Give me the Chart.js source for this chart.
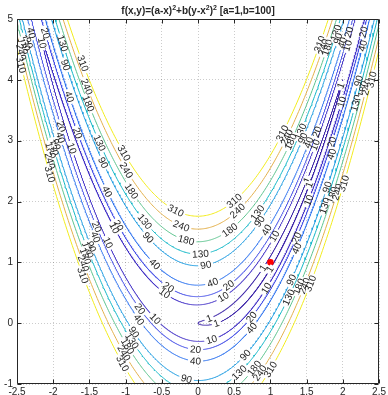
<!DOCTYPE html>
<html><head><meta charset="utf-8">
<script src="https://cdn.jsdelivr.net/npm/chart.js@4/dist/chart.umd.min.js"></script>
<style>html,body{margin:0;padding:0;background:#fff;}#wrap{width:388px;height:395px;}</style>
</head><body><div id="wrap"><canvas id="c" width="388" height="395"></canvas></div>
<script>
// ---- data ----
const paramA = 1, paramB = 100;                       // f(x,y)=(a-x)^2+b(y-x^2)^2
const levels = [1, 10, 20, 40, 90, 130, 180, 240, 310]; // contour levels
const levelColors = ['#3e26a8', '#4433c6', '#4650e6', '#2f73ee', '#1d9be0', '#10b6c6', '#5cc38e', '#e3b04c', '#f2ec1c'];
const xTicks = [-2.5, -2, -1.5, -1, -0.5, 0, 0.5, 1, 1.5, 2, 2.5];
const yTicks = [-1, 0, 1, 2, 3, 4, 5];
const minimumX = [1];
const minimumY = [1];
const titleParts = [['f(x,y)=(a-x)', 0], ['2', 1], ['+b(y-x', 0], ['2', 1], [')', 0], ['2', 1], [' [a=1,b=100]', 0]];
// contour label spots [level, x, y]
const labelLevel = [40,90,130,180,240,310, 20,10,130,90,40,310,240,180,
  20,40,20,10,90,130,180,240,310, 130,90,40,310,240,180,
  20,10,20,40,10,90,130,180,240,310,
  130,90,40,20,10,310,240,180,130,90,40,20,10,310,240,180,130,90,40,10,20,40,1,1,10,90,180,240,310,130,20,40,90,130,180,240,310,
  20,40,10,1,1,10,20,40,90,90,130,180,240,310,
  310,240,180,130,90,20,40,10,20,40,1,1,10,90,130,180,240,310,
  310,240,180,130,90,40,10,20,20,40,1,10,90,130,180,240,310];
const labelX = [-2.295,-2.363,-2.40,-2.432,-2.445,-2.432, -2.089,-2.158,-1.870,-1.815,-1.774,-1.596,-1.541,-1.500,
  -1.897,-1.897,-1.664,-1.733,-2.007,-2.034,-2.048,-2.075,-2.048, -1.336,-1.295,-1.253,-1.021,-0.979,-0.911,
  -1.089,-1.158,-1.404,-1.404,-1.226,-1.486,-1.527,-1.555,-1.582,-1.596,
  -0.747,-0.678,-0.582,-0.404,-0.459,-0.295,-0.226,-0.171,0.034,0.103,0.185,0.418,0.349,0.514,0.527,0.308,0.801,0.788,0.938,1.034,1.349,1.349,0.897,1.007,0.938,1.267,1.404,1.486,1.555,1.240,0.733,0.733,0.651,0.555,0.760,0.870,0.966,
  -0.788,-0.815,-0.582,0.144,0.253,0.185,-0.034,-0.034,-0.158,-0.884,-0.911,-0.966,-1.021,-1.034,
  1.144,1.240,1.281,1.404,1.418,1.651,1.541,1.623,1.856,1.829,1.500,1.541,1.514,1.788,1.747,1.897,1.952,2.021,
  1.678,1.719,1.829,1.897,1.925,1.993,2.034,2.089,2.308,2.267,1.952,1.993,2.226,2.158,2.267,2.336,2.432];
const labelY = [4.770,4.622,4.58,4.556,4.425,4.277, 4.770,4.606,4.606,4.244,3.718,4.277,3.882,3.619,
  3.225,3.060,3.126,2.880,2.929,2.863,2.814,2.649,2.485, 2.962,2.649,2.156,2.814,2.518,2.189,
  1.614,1.564,1.581,1.416,1.334,1.269,1.186,1.121,0.956,0.792,
  1.663,1.416,0.989,0.595,0.496,1.877,1.614,1.367,1.153,0.989,0.710,0.627,0.430,1.992,1.861,1.745,1.827,1.729,1.532,1.449,1.416,1.236,0.907,0.874,0.578,0.710,0.578,0.595,0.677,0.414,0.101,-0.079,-0.523,-0.803,-0.721,-0.819,-0.737,
  0.249,0.052,0.085,0.101,0.003,-0.260,-0.425,-0.605,-0.918,-0.145,-0.277,-0.359,-0.474,-0.638,
  3.126,3.044,2.962,3.143,3.060,3.143,2.962,2.929,2.978,2.797,2.353,2.271,2.025,2.238,1.910,2.107,2.156,2.271,
  4.606,4.523,4.540,4.770,4.688,4.606,4.573,4.770,4.770,4.573,3.915,3.636,3.997,3.636,3.833,3.882,4.030];

// ---- contour curves of f = level (parametrised exactly on the level set) ----
function contourPoints(c) {
  const pts = [];
  const N = 6000, r = Math.sqrt(c);
  let prevIn = false;
  for (let k = 0; k <= N; k++) {
    const t = 2 * Math.PI * k / N;
    const x = paramA - r * Math.cos(t);
    const y = x * x + (r / Math.sqrt(paramB)) * Math.sin(t);
    const inside = x >= -3 && x <= 3 && y >= -1.6 && y <= 5.6;
    if (inside) { pts.push({x, y}); prevIn = true; }
    else if (prevIn) { pts.push({x: NaN, y: NaN}); prevIn = false; }
  }
  return pts;
}
const curves = levels.map(contourPoints);

const datasets = [{
  data: minimumX.map((x, i) => ({x, y: minimumY[i]})),
  showLine: false, pointRadius: 3.3, pointStyle: 'circle',
  backgroundColor: '#ff0000', borderColor: '#ff0000', borderWidth: 0, order: -1
}].concat(levels.map((c, i) => ({
  data: curves[i], showLine: true, spanGaps: false, pointRadius: 0,
  borderColor: levelColors[i], borderWidth: 1, fill: false, tension: 0
})));

const INK = '#262626';
const FONT = "'Liberation Sans', Arial, Helvetica, sans-serif";

const framePlugin = {
  id: 'frame',
  afterDatasetsDraw(chart) {
    const ctx = chart.ctx, xs = chart.scales.x, ys = chart.scales.y;
    // contour labels
    ctx.save();
    ctx.font = '10px ' + FONT;
    ctx.textAlign = 'center'; ctx.textBaseline = 'middle';
    for (let j = 0; j < labelLevel.length; j++) {
      const li = levels.indexOf(labelLevel[j]);
      const pts = curves[li];
      const tx = xs.getPixelForValue(labelX[j]), ty = ys.getPixelForValue(labelY[j]);
      let best = -1, bd = Infinity;
      for (let k = 0; k < pts.length; k++) {
        if (isNaN(pts[k].x)) continue;
        const px = xs.getPixelForValue(pts[k].x), py = ys.getPixelForValue(pts[k].y);
        const d = (px - tx) ** 2 + (py - ty) ** 2;
        if (d < bd) { bd = d; best = k; }
      }
      if (best < 0) continue;
      const p = pts[best];
      const a0 = pts[Math.max(0, best - 3)], a1 = pts[Math.min(pts.length - 1, best + 3)];
      let q0 = isNaN(a0.x) ? p : a0, q1 = isNaN(a1.x) ? p : a1;
      const dx = xs.getPixelForValue(q1.x) - xs.getPixelForValue(q0.x);
      const dy = ys.getPixelForValue(q1.y) - ys.getPixelForValue(q0.y);
      let ang = Math.atan2(dy, dx);
      if (ang > Math.PI / 2) ang -= Math.PI;
      if (ang < -Math.PI / 2) ang += Math.PI;
      const px = xs.getPixelForValue(p.x), py = ys.getPixelForValue(p.y);
      const txt = String(labelLevel[j]);
      const w = ctx.measureText(txt).width;
      ctx.save();
      ctx.translate(px, py); ctx.rotate(ang);
      ctx.fillStyle = '#ffffff';
      ctx.fillRect(-w / 2 - 2, -2, w + 4, 4);
      ctx.fillStyle = INK;
      ctx.fillText(txt, 0, 0.5);
      ctx.restore();
    }
    ctx.restore();
  },
  afterDraw(chart) {
    const ctx = chart.ctx, a = chart.chartArea, xs = chart.scales.x, ys = chart.scales.y;
    ctx.save();
    ctx.strokeStyle = INK; ctx.lineWidth = 1;
    const L = Math.round(a.left) + 0.5, R = Math.round(a.right) - 0.5;
    const T = Math.round(a.top) + 0.5, B = Math.round(a.bottom) - 0.5;
    ctx.beginPath();
    ctx.rect(L, T, R - L, B - T);
    xTicks.forEach(v => {
      const x = Math.round(xs.getPixelForValue(v)) + 0.5;
      ctx.moveTo(x, B); ctx.lineTo(x, B - 4);
      ctx.moveTo(x, T); ctx.lineTo(x, T + 4);
    });
    yTicks.forEach(v => {
      const y = Math.round(ys.getPixelForValue(v)) + 0.5;
      ctx.moveTo(L, y); ctx.lineTo(L + 4, y);
      ctx.moveTo(R, y); ctx.lineTo(R - 4, y);
    });
    ctx.stroke();
    // title with superscripts
    const big = 'bold 10px ' + FONT, small = 'bold 7px ' + FONT;
    let total = 0;
    titleParts.forEach(([s, sup]) => { ctx.font = sup ? small : big; total += ctx.measureText(s).width; });
    let x = (a.left + a.right) / 2 - total / 2;
    const base = 14;
    ctx.fillStyle = INK; ctx.textBaseline = 'alphabetic'; ctx.textAlign = 'left';
    titleParts.forEach(([s, sup]) => {
      ctx.font = sup ? small : big;
      ctx.fillText(s, x, sup ? base - 4 : base);
      x += ctx.measureText(s).width;
    });
    ctx.restore();
  }
};

new Chart(document.getElementById('c'), {
  type: 'scatter',
  data: { datasets },
  options: {
    responsive: false, animation: false, events: [],
    layout: { padding: { top: 19, right: 6, left: 0, bottom: 0 } },
    plugins: { legend: { display: false }, tooltip: { enabled: false }, title: { display: false } },
    scales: {
      x: {
        type: 'linear', min: -2.5, max: 2.5,
        afterBuildTicks: s => { s.ticks = xTicks.map(v => ({ value: v })); },
        afterFit: s => { s.height = 11; },
        grid: { drawTicks: false, color: 'rgba(0,0,0,0.2)' },
        border: { display: false, dash: [1, 2] },
        ticks: { font: { size: 10, family: FONT }, color: INK, padding: 2, maxRotation: 0, autoSkip: false,
                 callback: v => String(v) }
      },
      y: {
        type: 'linear', min: -1, max: 5,
        afterBuildTicks: s => { s.ticks = yTicks.map(v => ({ value: v })); },
        afterFit: s => { s.width = 17; },
        grid: { drawTicks: false, color: 'rgba(0,0,0,0.2)' },
        border: { display: false, dash: [1, 2] },
        ticks: { font: { size: 10, family: FONT }, color: INK, padding: 4, autoSkip: false,
                 callback: v => String(v) }
      }
    }
  },
  plugins: [framePlugin]
});
</script>
</body></html>
